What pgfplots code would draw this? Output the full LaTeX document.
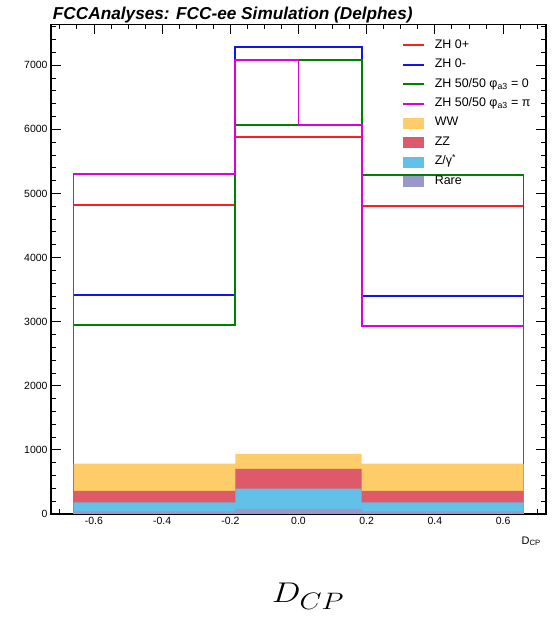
\documentclass[border=0pt]{standalone}
\usepackage{pgfplots}
\pgfplotsset{compat=1.18}
\usepackage{pgfplotstable}
\usepackage{fontspec}
\setmainfont{Liberation Sans}

\definecolor{zhp}{RGB}{255,30,30}
\definecolor{zhm}{RGB}{20,20,240}
\definecolor{mixz}{RGB}{0,128,0}
\definecolor{mixp}{RGB}{220,0,220}
\definecolor{wwc}{RGB}{254,204,104}
\definecolor{zzc}{RGB}{222,90,107}
\definecolor{zgc}{RGB}{99,192,232}
\definecolor{rarec}{RGB}{152,152,202}

% Signal histograms: bin lower edges, the last row closes the outline
\pgfplotstableread{
x      zhp   zhm   mixz  mixp
-0.66  0     0     0     0
-0.66  4820  3416  2948  5300
-0.185 5880  7280  6068  7083
0      5880  7280  7083  6068
0.185  4810  3400  5289  2933
0.66   0     0     0     0
}\sigtab

% Backgrounds, cumulative stack heights (Rare, +Z/gamma*, +ZZ, +WW)
\pgfplotstableread{
x      rare  zg   zz   ww
-0.66  0     0    0    0
-0.66  40    182  359  785
-0.185 80    395  702  936
0      80    395  702  936
0.185  40    182  359  785
0.66   0     0    0    0
}\bkgtab

\begin{document}
\begin{tikzpicture}
\useasboundingbox (0,0) rectangle (556bp,618bp);
\begin{axis}[
  at={(51bp,104bp)}, anchor=south west,
  scale only axis, width=495bp, height=489.5bp,
  xmin=-0.726, xmax=0.726, ymin=0, ymax=7636,
  axis line style={line width=1.5bp},
  tick align=inside,
  major tick length=10bp, minor tick length=5bp,
  every tick/.style={black, line width=0.9bp},
  xtick={-0.6,-0.4,-0.2,0,0.2,0.4,0.6},
  xticklabels={-0.6,-0.4,-0.2,0.0,0.2,0.4,0.6},
  minor xtick={-0.7,-0.65,-0.55,-0.5,-0.45,-0.35,-0.3,-0.25,-0.15,-0.1,-0.05,0.05,0.1,0.15,0.25,0.3,0.35,0.45,0.5,0.55,0.65,0.7},
  ytick={0,1000,2000,3000,4000,5000,6000,7000},
  yticklabels={0,1000,2000,3000,4000,5000,6000,7000},
  minor ytick={200,400,...,7600},
  tick label style={font=\fontsize{10.5}{12}\selectfont},
  legend style={
    at={(axis description cs:0.7085,0.970)}, anchor=north west,
    draw=none, fill=none, inner sep=0pt,
    row sep=7.4bp, column sep=10bp,
    font=\fontsize{12.5}{14}\selectfont,
    nodes={inner sep=0pt, text height=9bp, text depth=3bp},
  },
  legend cell align=left,
  linelegend/.style={legend image code/.code={\draw[##1] (0bp,0bp) -- (21bp,0bp);}},
  boxlegend/.style={legend image code/.code={\fill[##1] (0bp,-5bp) rectangle (20bp,5bp);}},
  histline/.style={forget plot, const plot mark left, line width=1.9bp},
  histfill/.style={forget plot, const plot mark left, draw=none},
]
% legend entries
\addlegendimage{linelegend, zhp, line width=1.9bp}
\addlegendentry{ZH 0+}
\addlegendimage{linelegend, zhm, line width=1.9bp}
\addlegendentry{ZH 0-}
\addlegendimage{linelegend, mixz, line width=1.9bp}
\addlegendentry{ZH 50/50 φ\textsubscript{a3} = 0}
\addlegendimage{linelegend, mixp, line width=1.9bp}
\addlegendentry{ZH 50/50 φ\textsubscript{a3} = π}
\addlegendimage{boxlegend, wwc}
\addlegendentry{WW}
\addlegendimage{boxlegend, zzc}
\addlegendentry{ZZ}
\addlegendimage{boxlegend, zgc}
\addlegendentry{Z/γ\textsuperscript{*}}
\addlegendimage{boxlegend, rarec}
\addlegendentry{Rare}

% signal outlines
\addplot[histline, zhp] table[x=x, y=zhp] {\sigtab};
\addplot[histline, zhm] table[x=x, y=zhm] {\sigtab};
\addplot[histline, mixz] table[x=x, y=mixz] {\sigtab};
\addplot[histline, mixp] table[x=x, y=mixp] {\sigtab};

% stacked backgrounds, tallest first
\addplot[histfill, fill=wwc] table[x=x, y=ww] {\bkgtab} -- cycle;
\addplot[histfill, fill=zzc] table[x=x, y=zz] {\bkgtab} -- cycle;
\addplot[histfill, fill=zgc] table[x=x, y=zg] {\bkgtab} -- cycle;
\addplot[histfill, fill=rarec] table[x=x, y=rare] {\bkgtab} -- cycle;
\end{axis}

\node[anchor=base west, inner sep=0pt, font=\fontsize{17.3}{20}\selectfont\bfseries\itshape]
  at (52.7bp,598.7bp) {FCCAnalyses: FCC-ee Simulation (Delphes)};
\node[anchor=base east, inner sep=0pt, font=\fontsize{11}{13}\selectfont]
  at (541bp,73.7bp) {D\textsubscript{CP}};
\node[anchor=base, inner sep=0pt, font=\fontsize{24.88}{30}\selectfont, xscale=1.38, yscale=1.15]
  at (308bp,15.3bp) {$D_{CP}$};
\end{tikzpicture}
\end{document}
